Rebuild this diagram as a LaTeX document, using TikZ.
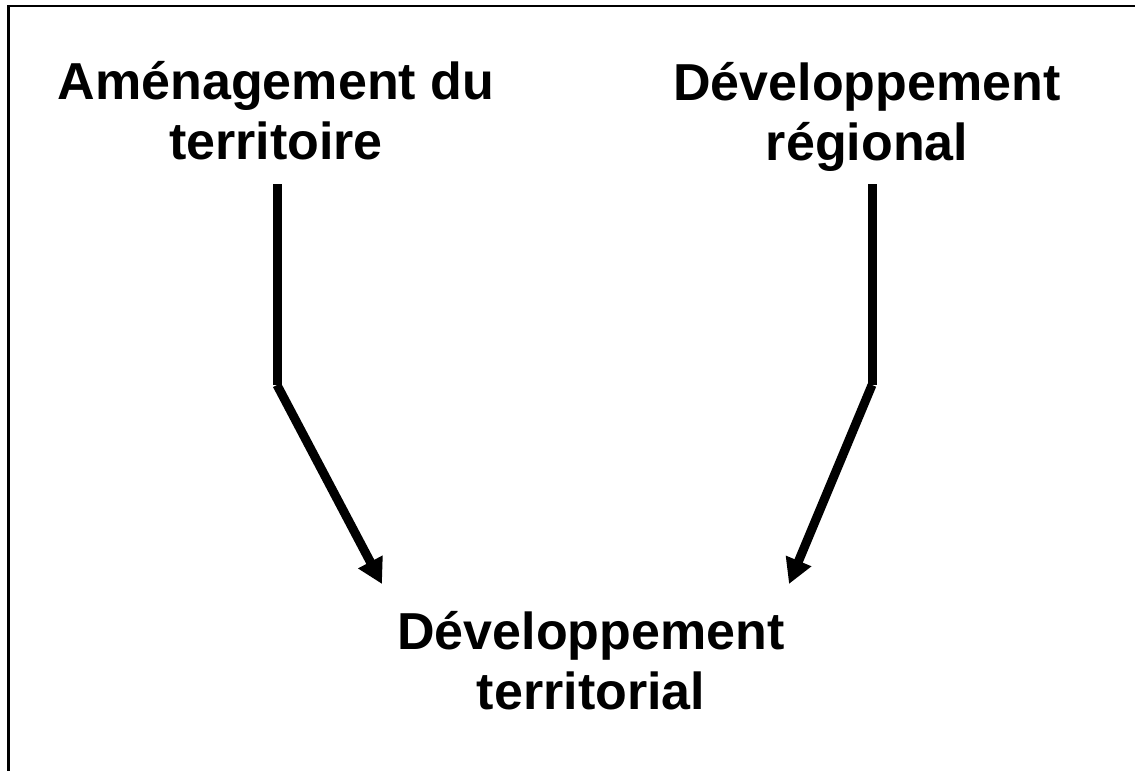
\documentclass[tikz,border=0pt]{standalone}
\usepackage{fontspec}
\setmainfont{Liberation Sans}
\usetikzlibrary{arrows.meta}

\begin{document}
\begin{tikzpicture}[x=0.5pt, y=-0.5pt, >={Triangle[length=12.5pt, width=13pt]}]
  \tikzstyle{titre} = [align=center, inner sep=0pt, font={\fontsize{26}{30}\selectfont\bfseries}]
  \tikzstyle{barre} = [black, line width=4.5pt];
  \tikzstyle{fleche} = [barre, ->];

  \useasboundingbox (0,0) rectangle (1135,771);
  % cadre (ouvert a droite et en bas)
  \draw[line width=1.3pt] (1135,6) -- (8.5,6) -- (8.5,771);

  \node[titre] (amenagement) at (276,111)   {Aménagement du\\territoire};
  \node[titre] (regional)    at (867,116.5) {Développement\\régional};
  \node[titre] (territorial) at (591,661)   {Développement\\territorial};

  \coordinate (gHaut)   at (277,184);
  \coordinate (gCoude)  at (277,385);
  \coordinate (gPointe) at (382,584);
  \coordinate (dHaut)   at (872,184);
  \coordinate (dCoude)  at (872,385);
  \coordinate (dPointe) at (789,584);

  \draw[barre]  (gHaut) -- (gCoude);
  \draw[fleche] (gCoude) -- (gPointe);
  \draw[barre]  (dHaut) -- (dCoude);
  \draw[fleche] (dCoude) -- (dPointe);
\end{tikzpicture}
\end{document}
